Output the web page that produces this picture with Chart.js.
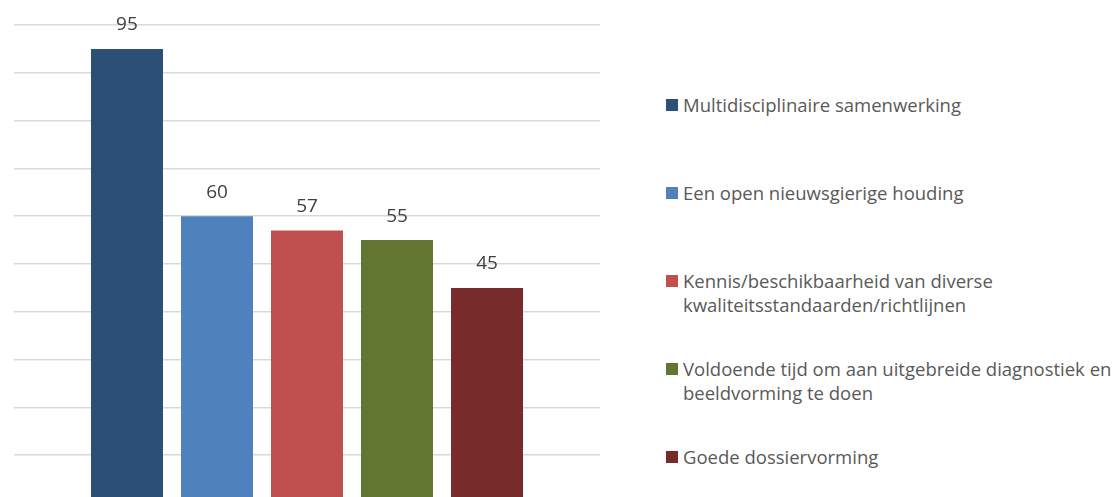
<!DOCTYPE html>
<html>
<head>
<meta charset="utf-8">
<script src="https://cdn.jsdelivr.net/npm/chart.js@4.4.0/dist/chart.umd.min.js"></script>
<style>
  html, body { margin: 0; padding: 0; background: #fff; overflow: hidden; }
  #wrap { position: absolute; left: 0; top: 0; width: 620px; height: 510px; }
  #legend { position: absolute; left: 666px; top: 93px; width: 451px;
    font-family: "Open Sans", "Noto Sans", sans-serif; font-size: 18.5px; color: #595959; }
  .item { height: 88px; display: flex; align-items: flex-start; line-height: 24px; white-space: nowrap; }
  .box { width: 12px; height: 12px; margin: 6px 5px 0 0; flex: none; }
</style>
</head>
<body>
<div id="wrap"><canvas id="chart"></canvas></div>
<div id="legend"></div>
<script>
// series (one bar each)
var seriesNames = [
  ["Multidisciplinaire samenwerking"],
  ["Een open nieuwsgierige houding"],
  ["Kennis/beschikbaarheid van diverse", "kwaliteitsstandaarden/richtlijnen"],
  ["Voldoende tijd om aan uitgebreide diagnostiek en", "beeldvorming te doen"],
  ["Goede dossiervorming"]
];
var seriesValues = [95, 60, 57, 55, 45];
var seriesColors = ["#2c4f76", "#4f81bd", "#c0504d", "#617631", "#772b2b"];
var categories = [""];

var datasets = seriesValues.map(function(v, i) {
  return {
    label: seriesNames[i].join(" "),
    data: [v],
    backgroundColor: seriesColors[i],
    categoryPercentage: 0.768,
    barPercentage: 0.8
  };
});

// value labels above each bar
var valueLabels = {
  id: 'valueLabels',
  afterDatasetsDraw: function(chart) {
    var ctx = chart.ctx;
    ctx.save();
    ctx.font = '19px "Open Sans", "Noto Sans", sans-serif';
    ctx.fillStyle = '#404040';
    ctx.textAlign = 'center';
    ctx.textBaseline = 'middle';
    chart.data.datasets.forEach(function(ds, i) {
      chart.getDatasetMeta(i).data.forEach(function(bar, j) {
        ctx.fillText(ds.data[j], bar.x, bar.y - 24);
      });
    });
    ctx.restore();
  }
};

new Chart(document.getElementById('chart'), {
  type: 'bar',
  data: { labels: categories, datasets: datasets },
  options: {
    responsive: true,
    maintainAspectRatio: false,
    animation: false,
    layout: { padding: { left: 14, right: 20, top: 25, bottom: 7 } },
    plugins: { legend: { display: false }, tooltip: { enabled: false } },
    scales: {
      x: { display: false },
      y: {
        min: 0, max: 100,
        ticks: { stepSize: 10, display: false },
        border: { display: false },
        grid: { color: '#d9d9d9', lineWidth: 1.5, drawTicks: false }
      }
    }
  },
  plugins: [valueLabels]
});

// legend on the right
var legend = document.getElementById('legend');
seriesNames.forEach(function(lines, i) {
  var item = document.createElement('div');
  item.className = 'item';
  var box = document.createElement('span');
  box.className = 'box';
  box.style.background = seriesColors[i];
  var txt = document.createElement('span');
  txt.innerHTML = lines.join('<br>');
  item.appendChild(box);
  item.appendChild(txt);
  legend.appendChild(item);
});
</script>
</body>
</html>
